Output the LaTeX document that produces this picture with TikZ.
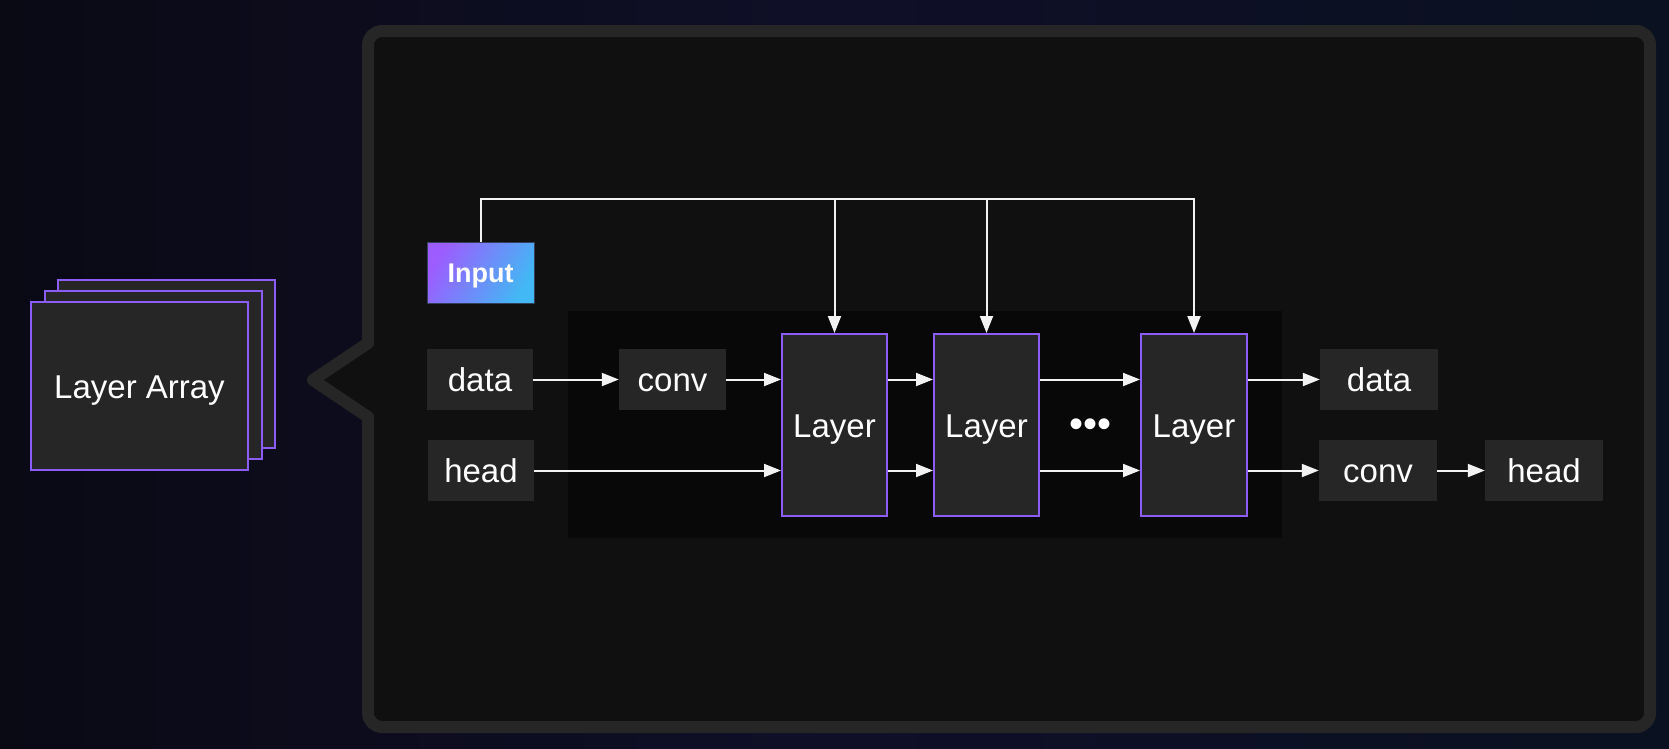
\documentclass[tikz,border=0pt]{standalone}
\usepackage{fontspec}
\setmainfont{Liberation Sans}
\usetikzlibrary{arrows.meta}
\definecolor{bgL}{HTML}{0A0A15}
\definecolor{bgM}{HTML}{0F0F28}
\definecolor{bgR}{HTML}{0A1120}
\definecolor{panelfill}{HTML}{101010}
\definecolor{panelborder}{HTML}{262626}
\definecolor{innerdark}{HTML}{080808}
\definecolor{boxgray}{HTML}{262626}
\definecolor{purp}{HTML}{8B5CF6}
\definecolor{inpA}{HTML}{9D5CFF}
\definecolor{inpB}{HTML}{42B8F4}
\definecolor{inpBorder}{HTML}{34405A}
\definecolor{wire}{HTML}{F2F2F2}
\begin{document}
\begin{tikzpicture}[x=1pt,y=-1pt,
  txt/.style={text=white,font=\fontsize{33}{33}\selectfont,text height=24pt,text depth=0pt,inner sep=0pt},
  tagbox/.style={txt,fill=boxgray,minimum height=61pt,minimum width=106pt},
  layerbox/.style={txt,fill=boxgray,draw=purp,line width=2pt,minimum width=105pt,minimum height=182pt},
  stackbox/.style={txt,fill=boxgray,draw=purp,line width=2pt,minimum width=217pt,minimum height=168pt},
  arr/.style={draw=wire,line width=2pt,-{Triangle[length=17pt,width=13pt]}},
  border/.style={draw=panelborder,line width=12pt,line cap=round,line join=round}]
\useasboundingbox (0,0) rectangle (1669,748);
% background
\shade[left color=bgL,right color=bgR,middle color=bgM] (0,0) rectangle (1669,748);
% panel
\fill[panelfill,rounded corners=14pt] (368,31) rectangle (1650,727);
\fill[panelfill] (368,343) -- (313,380) -- (368,417) -- cycle;
\draw[border,rounded corners=14pt] (368,343) -- (368,31) -- (1650,31) -- (1650,727) -- (368,727) -- (368,417);
\draw[border] (368,343) -- (313,380) -- (368,417);
% inner dark area
\fill[innerdark] (568,311) rectangle (1282,538);
% layer array stack
\node[stackbox] (la3) at (166,364) {};
\node[stackbox] (la2) at (153,375) {};
\node[stackbox] (la1) at (139.5,386) {Layer Array};
% input
\node[txt,font=\fontsize{27}{27}\selectfont\bfseries,text height=19.5pt,
  top color=inpA,bottom color=inpB,shading angle=60,draw=inpBorder,line width=1pt,
  minimum width=107pt,minimum height=61pt] (input) at (480.5,272.5) {Input};
% tags left
\node[tagbox] (data) at (480,379.5) {data};
\node[tagbox,minimum width=107pt] (conv) at (672.5,379.5) {conv};
\node[tagbox] (head) at (481,470.5) {head};
% layers
\node[layerbox] (L1) at (834.5,425) {Layer};
\node[layerbox] (L2) at (986.5,425) {Layer};
\node[layerbox,minimum width=106pt] (L3) at (1194,425) {Layer};
\node[text=white,font=\fontsize{40}{40}\selectfont,inner sep=0pt] (dots) at (1090.5,428) {•••};
% tags right
\node[tagbox,minimum width=118pt] (dout) at (1379,379.5) {data};
\node[tagbox,minimum width=118pt] (cout) at (1378,470.5) {conv};
\node[tagbox,minimum width=118pt] (hout) at (1544,470.5) {head};
% bus
\coordinate (bus) at (input.north |- 0,199);
\draw[arr] (input.north) -- (bus) -| (L3.north);
\draw[arr] (bus -| L1.north) -- (L1.north);
\draw[arr] (bus -| L2.north) -- (L2.north);
% row arrows
\draw[arr] (data) -- (conv);
\draw[arr] (conv.east) -- (conv.east -| L1.west);
\draw[arr] (head.east) -- (head.east -| L1.west);
\draw[arr] (L1.east |- data) -- (L2.west |- data);
\draw[arr] (L1.east |- head) -- (L2.west |- head);
\draw[arr] (L2.east |- data) -- (L3.west |- data);
\draw[arr] (L2.east |- head) -- (L3.west |- head);
\draw[arr] (L3.east |- dout) -- (dout.west);
\draw[arr] (L3.east |- cout) -- (cout.west);
\draw[arr] (cout) -- (hout);
\end{tikzpicture}
\end{document}
